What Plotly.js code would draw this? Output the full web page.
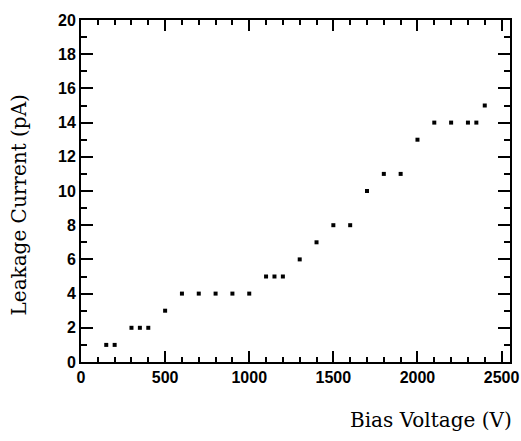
<!DOCTYPE html>
<html>
<head>
<meta charset="utf-8">
<script src="https://cdn.plot.ly/plotly-3.0.1.min.js"></script>
<style>html,body{margin:0;padding:0;background:#fff;}#chart{width:521px;height:441px;}</style>
</head>
<body>
<div id="chart"></div>
<script>
var biasVoltage = [150,200,300,350,400,500,600,700,800,900,1000,1100,1150,1200,1300,1400,1500,1600,1700,1800,1900,2000,2100,2200,2300,2350,2400];
var leakageCurrent = [1,1,2,2,2,3,4,4,4,4,4,5,5,5,6,7,8,8,10,11,11,13,14,14,14,14,15];
var xMajorTicks = [0,500,1000,1500,2000,2500];
var yMajorTicks = [0,2,4,6,8,10,12,14,16,18,20];
var xTitle = 'Bias Voltage (V)';
var yTitle = 'Leakage Current (pA)';

var trace = {
  x: biasVoltage, y: leakageCurrent, type: 'scatter', mode: 'markers',
  marker: {symbol: 'square', size: 4, color: 'black'}, hoverinfo: 'x+y'
};
var tickFont = {family: 'Liberation Sans, Arial, sans-serif', size: 16, color: 'black', weight: 'bold'};

var layout = {
  width: 521, height: 441,
  margin: {l: 81, r: 11, t: 20, b: 79},
  paper_bgcolor: 'white', plot_bgcolor: 'white',
  showlegend: false,
  xaxis: {
    range: [0, 2550], tickvals: xMajorTicks,
    ticks: 'inside', ticklen: 11, tickwidth: 2, tickcolor: 'black',
    minor: {dtick: 100, tick0: 0, ticks: 'inside', ticklen: 5, tickwidth: 2, tickcolor: 'black'},
    showline: true, linecolor: 'black', linewidth: 2, mirror: 'allticks',
    showgrid: false, zeroline: false, tickfont: tickFont
  },
  yaxis: {
    range: [0, 20], tickvals: yMajorTicks,
    ticks: 'inside', ticklen: 12, tickwidth: 2, tickcolor: 'black',
    minor: {dtick: 1, tick0: 0, ticks: 'inside', ticklen: 6, tickwidth: 2, tickcolor: 'black'},
    showline: true, linecolor: 'black', linewidth: 2, mirror: 'allticks',
    showgrid: false, zeroline: false, tickfont: tickFont
  },
  annotations: [
    {text: xTitle, xref: 'paper', yref: 'paper', x: 1.01, y: -0.13, xanchor: 'right', yanchor: 'top', showarrow: false,
     font: {family: 'DejaVu Serif, serif', size: 20, color: 'black'}},
    {text: yTitle, xref: 'paper', yref: 'paper', x: -0.145, y: 0.46, xanchor: 'center', yanchor: 'middle', textangle: -90, showarrow: false,
     font: {family: 'DejaVu Serif, serif', size: 20, color: 'black'}}
  ]
};
Plotly.newPlot('chart', [trace], layout, {displayModeBar: false});
</script>
</body>
</html>
